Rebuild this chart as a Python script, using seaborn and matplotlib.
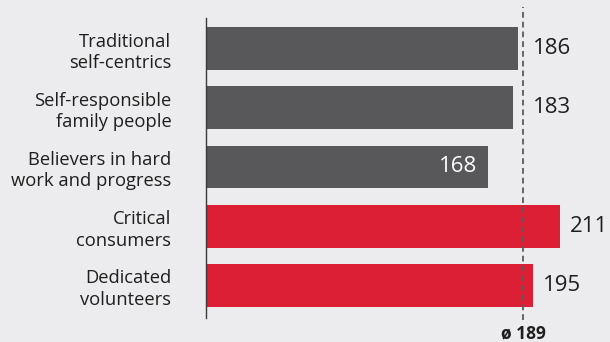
import matplotlib
matplotlib.use("Agg")
import matplotlib.pyplot as plt
import seaborn as sns
import pandas as pd

# Segment labels and index values
categories = [
    "Traditional\nself-centrics",
    "Self-responsible\nfamily people",
    "Believers in hard\nwork and progress",
    "Critical\nconsumers",
    "Dedicated\nvolunteers",
]
values = [186, 183, 168, 211, 195]
groups = ["base", "base", "base", "focus", "focus"]
average = 189

palette = {"base": "#58585a", "focus": "#dc1f35"}
bg = "#ececee"
text_color = "#1e1e1e"

df = pd.DataFrame({"segment": categories, "value": values, "group": groups})

sns.set_theme(style="white")
plt.rcParams["font.family"] = ["Open Sans", "DejaVu Sans"]

fig = plt.figure(figsize=(6.10, 3.42), dpi=100, facecolor=bg)
ax = fig.add_axes([206 / 610, 1 - 318 / 342, 394 / 610, 300 / 342])
ax.set_facecolor(bg)

sns.barplot(data=df, y="segment", x="value", hue="group", palette=palette,
            dodge=False, width=0.725, legend=False, ax=ax, saturation=1,
            linewidth=0, edgecolor="none")

ax.set_xlim(0, 394 / 1.678)
ax.set_ylim(4.549, -0.515)

# Average marker line
ax.axvline(average, ymin=-0.007, ymax=1.037, color="#5a5a5a", lw=1.3,
           ls=(0, (3.2, 2.2)), clip_on=False, zorder=5)
ax.annotate(f"ø {average}", xy=(average, 0), xycoords=("data", "axes fraction"),
            xytext=(0, -11), textcoords="offset points", ha="center", va="center",
            fontsize=12.5, fontweight="bold", color=text_color, annotation_clip=False)

# Value labels
for i, v in enumerate(values):
    if v < average - 15:
        ax.annotate(str(v), xy=(v, i), xytext=(-8, 0), textcoords="offset points",
                    ha="right", va="center", fontsize=16, color="white")
    else:
        ax.annotate(str(v), xy=(max(v, average), i), xytext=(7, 0),
                    textcoords="offset points", ha="left", va="center",
                    fontsize=16, color=text_color, annotation_clip=False)

ax.set_xlabel("")
ax.set_ylabel("")
ax.set_xticks([])
ax.tick_params(axis="y", length=0, pad=25, labelsize=13.2, labelcolor=text_color)
for lbl in ax.get_yticklabels():
    lbl.set_horizontalalignment("right")
    lbl.set_multialignment("right")
    lbl.set_linespacing(1.25)

for s in ["top", "right", "bottom"]:
    ax.spines[s].set_visible(False)
ax.spines["left"].set_color("#3a3a3a")
ax.spines["left"].set_linewidth(1.0)

fig.savefig("out.png", dpi=100, facecolor=bg)
